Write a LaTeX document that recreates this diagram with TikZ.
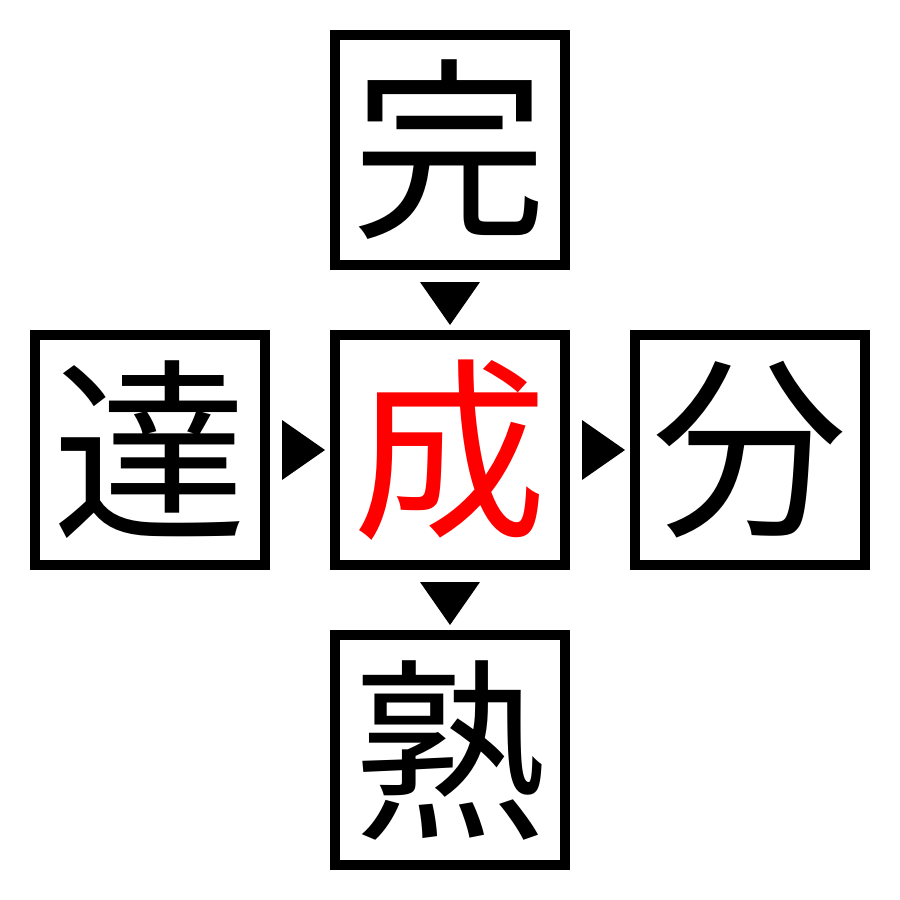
\documentclass[tikz,border=0pt]{standalone}
\usepackage{fontspec}
\newfontfamily\cjk{Noto Sans CJK JP}
\usetikzlibrary{calc}
\begin{document}
\begin{tikzpicture}[x=1pt,y=-1pt,
  kbox/.style={draw=black,line width=10pt,minimum width=230pt,minimum height=230pt,inner sep=0pt,
    font=\cjk\fontsize{195}{195}\selectfont,anchor=center},
  tri/.style={fill=black}]
\useasboundingbox (0,0) rectangle (900,900);
\node[kbox] (top) at (450,150) {完};
\node[kbox] (left) at (150,450) {達};
\node[kbox,text=red] (mid) at (450,450) {成};
\node[kbox] (right) at (750,450) {分};
\node[kbox] (bot) at (450,750) {熟};
% triangles between boxes
\fill[tri] ($(top.south)+(-30,12)$) -- ($(top.south)+(30,12)$) -- ($(mid.north)+(0,-5)$) -- cycle;
\fill[tri] ($(mid.south)+(-30,12)$) -- ($(mid.south)+(30,12)$) -- ($(bot.north)+(0,-5)$) -- cycle;
\fill[tri] ($(left.east)+(12,-30)$) -- ($(left.east)+(12,30)$) -- ($(mid.west)+(-5,0)$) -- cycle;
\fill[tri] ($(mid.east)+(12,-30)$) -- ($(mid.east)+(12,30)$) -- ($(right.west)+(-5,0)$) -- cycle;
\end{tikzpicture}
\end{document}
